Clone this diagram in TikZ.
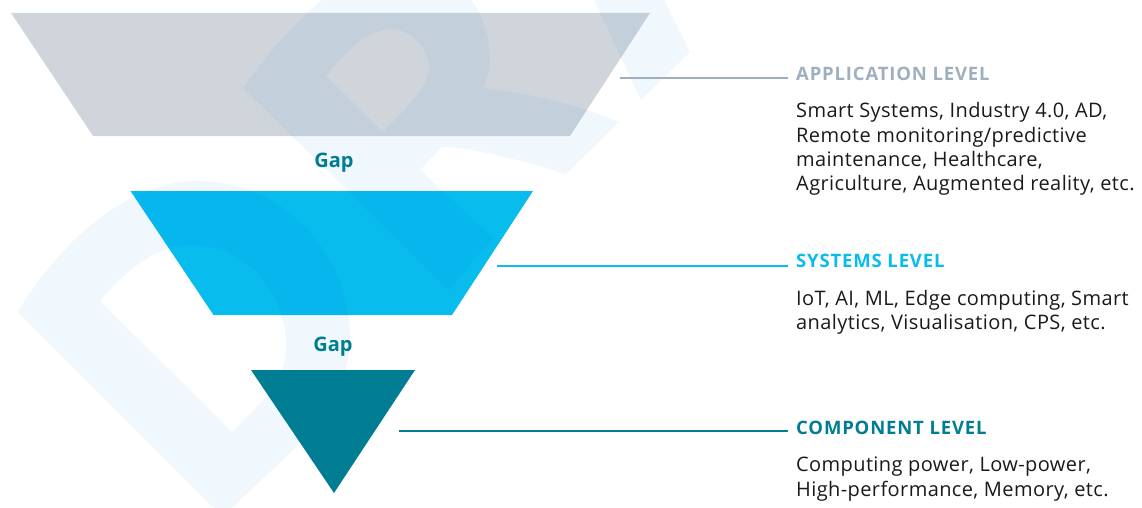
\documentclass[tikz,border=0pt]{standalone}
\usepackage{fontspec}
\setmainfont{Open Sans}
\definecolor{markc}{HTML}{F0F8FD}
\definecolor{appc}{HTML}{D0D5DC}
\definecolor{sysc}{HTML}{08BCEE}
\definecolor{compc}{HTML}{007D93}
\definecolor{apphead}{HTML}{A0AFBE}
\definecolor{bodyc}{HTML}{1A1A1A}
\tikzset{
  head/.style={anchor=base west,inner sep=0pt,font=\fontsize{18.5}{20}\selectfont\bfseries\addfontfeature{LetterSpace=4.5}},
  body/.style={anchor=north west,inner sep=0pt,align=left,text=bodyc,font=\fontsize{20}{24.3}\selectfont\addfontfeature{LetterSpace=2}},
  gaplabel/.style={inner sep=0pt,text=compc,font=\fontsize{20}{22}\selectfont\bfseries},
  band/.style={fill=markc,even odd rule},
}
\begin{document}
\begin{tikzpicture}[x=1pt,y=-1pt]
    \useasboundingbox (0,0) rectangle (1142,508);
    \fill[band] (243,88) .. controls (265,55) and (295,25) .. (321,0) -- (472,0)
      .. controls (490,30) and (496,60) .. (483,88)
      .. controls (530,94) and (575,103) .. (619,122) -- (566,174)
      .. controls (520,160) and (470,147) .. (442,147) -- (420,170) -- (493,238) -- (449,290) -- cycle
      (326,76) .. controls (350,45) and (372,29) .. (391,29)
      .. controls (412,29) and (429,50) .. (429,67)
      .. controls (429,85) and (410,105) .. (383,132) -- cycle;
    \fill[band] (594,0) -- (664,0) -- (690,52) -- (641,100) -- cycle;
    \fill[band] (18,312) .. controls (60,240) and (130,181) .. (196,181)
      .. controls (290,181) and (350,260) .. (350,337)
      .. controls (350,410) and (280,460) .. (232,508) -- (214,508) -- cycle
      (100,301) .. controls (130,265) and (160,245) .. (192,245)
      .. controls (245,245) and (286,290) .. (286,347)
      .. controls (286,380) and (260,405) .. (232,432) -- cycle;
    \begin{scope}[blend mode=multiply]
      \foreach \col/\shape in {appc/{(11,13) -- (650,13) -- (570,136) -- (93,136)},
          sysc/{(130.5,191) -- (533,191) -- (452,315) -- (213.5,315)}}
        \fill[fill=\col] \shape -- cycle;
    \end{scope}
    \fill[compc] (251,370) -- (415,370) -- (334,493) -- cycle;
    \node[gaplabel] (gapa) at (334,163) {Gap};
    \node[gaplabel] (gapb) at (333,347) {Gap};
    \foreach \col/\name/\start/\ypos in {apphead/app/620/78.5,
        sysc/sys/497/266,compc/comp/399/430.5}
    {
      \coordinate (\name start) at (\start,\ypos);
      \coordinate (\name end) at (788,\ypos);
      \draw[draw=\col,line width=2pt] (\name start) -- (\name end);
    }
    \node[head,text=apphead] (apphd) at (796,80.5) {APPLICATION LEVEL};
    \node[head,text=sysc] (syshd) at (796,267.5) {SYSTEMS LEVEL};
    \node[head,text=compc] (comphd) at (796,434.5) {COMPONENT LEVEL};
    \node[body] (apptxt) at (796,102.5) {Smart Systems, Industry 4.0, AD,\\Remote monitoring/predictive\\maintenance, Healthcare,\\Agriculture, Augmented reality, etc.};
    \node[body] (systxt) at (796,290) {IoT, AI, ML, Edge computing, Smart\\analytics, Visualisation, CPS, etc.};
    \node[body] (comptxt) at (796,457) {Computing power, Low-power,\\High-performance, Memory, etc.};
  \end{tikzpicture}
\end{document}
